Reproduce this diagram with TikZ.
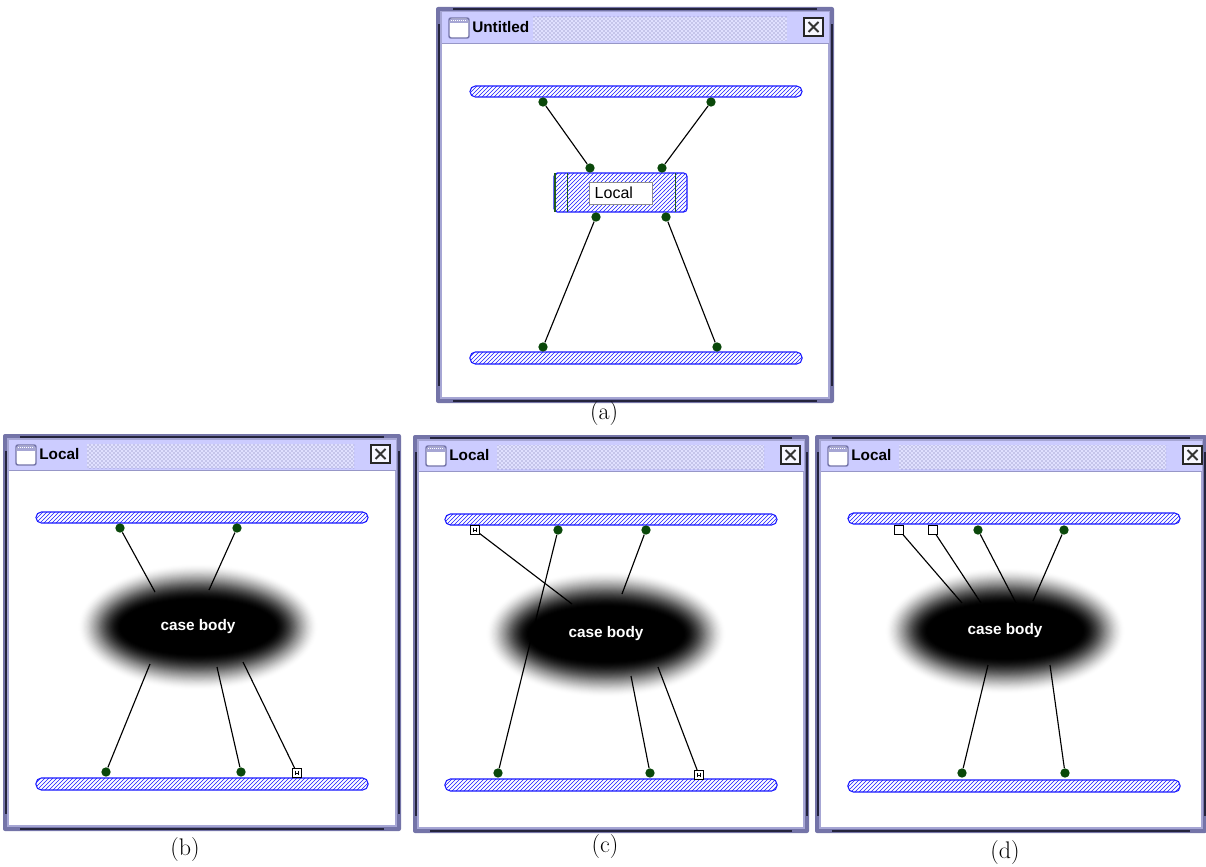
\documentclass[tikz,border=0pt]{standalone}
\usepackage{fontspec}
\newfontfamily\uifont{Liberation Sans}
\usetikzlibrary{patterns}

\definecolor{framemid}{HTML}{7474A8}
\definecolor{framedark}{HTML}{24243C}
\definecolor{framelight}{HTML}{A6A6D4}
\definecolor{titlebg}{HTML}{CCCCFF}
\definecolor{stipple}{HTML}{6E6EA6}
\definecolor{barblue}{HTML}{1A1AFF}
\definecolor{dotgreen}{HTML}{0A480A}
\definecolor{tabgreen}{HTML}{1E5A1E}

\tikzset{
  wire/.style={black, line width=0.85pt},
  dot/.style={circle, fill=dotgreen, inner sep=0pt, minimum size=7pt},
  pinbox/.style={rectangle, draw=black, fill=white, line width=0.6pt, inner sep=0pt, minimum size=6.4pt},
  pinH/.style={pinbox, path picture={
      \draw[line width=0.5pt]
        ([xshift=-1.2pt,yshift=1.8pt]path picture bounding box.center) -- ([xshift=-1.2pt,yshift=-1.8pt]path picture bounding box.center)
        ([xshift=1.2pt,yshift=1.8pt]path picture bounding box.center) -- ([xshift=1.2pt,yshift=-1.8pt]path picture bounding box.center)
        ([xshift=-1.2pt]path picture bounding box.center) -- ([xshift=1.2pt]path picture bounding box.center);}},
  pinD/.style={pinbox, path picture={
      \fill ([xshift=-1.3pt,yshift=-1.3pt]path picture bounding box.center) rectangle ([xshift=1.3pt,yshift=1.3pt]path picture bounding box.center);}},
  bar/.style={draw=barblue, line width=0.8pt, pattern=north east lines, pattern color=barblue, rounded corners=4pt},
  wintitle/.style={font=\uifont\bfseries\fontsize{11.5}{13}\selectfont, inner sep=0pt, text=black},
  localtag/.style={draw=black!45, fill=white, line width=0.6pt, font=\uifont\fontsize{12}{14}\selectfont,
      inner xsep=4pt, inner ysep=0pt, minimum height=16.5pt, text width=39pt, align=left},
  blobtext/.style={font=\uifont\bfseries\fontsize{11.5}{13}\selectfont, text=white, inner sep=0pt},
  caption/.style={font=\fontsize{18}{20}\selectfont, inner sep=0pt},
}

% application window: x0, y0, width, height, title, stipple start, title node name
\newcommand\appwin[7]{%
\begin{scope}[shift={(#1,#2)}]
  \fill[framemid, rounded corners=1.5pt] (0,0) rectangle (#3,#4);
  \fill[framedark] (17,1.5) rectangle ({#3-17},3.5);
  \fill[framedark] (17,{#4-3.5}) rectangle ({#3-17},{#4-1.5});
  \fill[framedark] (1.5,17) rectangle (3.5,{#4-17});
  \fill[framedark] ({#3-3.5},17) rectangle ({#3-1.5},{#4-17});
  \fill[framelight] (4,4) rectangle ({#3-4},{#4-4});
  \fill[titlebg] (5.5,5.5) rectangle ({#3-5.5},36);
  \fill[framelight!70!framemid] (5.5,36) rectangle ({#3-5.5},37);
  \fill[white] (6,37) rectangle ({#3-6},{#4-6});
  % stippled grip area of the title bar
  \fill[titlebg!60!white] (#6,10) rectangle (351,34);
  \fill[pattern=crosshatch dots, pattern color=stipple] (#6,10) rectangle (351,34);
  % window icon
  \draw[framemid, line width=1.1pt, fill=white, rounded corners=1.5pt] (13,11) rectangle (33,31);
  \fill[framelight] (14,12) rectangle (32,16.5);
  \draw[white, line width=0.4pt, dash pattern=on 0.6pt off 0.9pt] (15,13.5) -- (31,13.5);
  % close button
  \draw[line width=0.9pt, draw=black!85, fill=white!85!titlebg] (368,11) rectangle (387,29);
  \draw[line width=1.5pt, black!80] (372.5,15) -- (382.5,25) (372.5,25) -- (382.5,15);
  \node[wintitle, anchor=west] (#7) at (36,20.5) {#5};
\end{scope}}

% blurred "case body" blob: centre x, centre y, node name
% stacked translucent ellipses whose combined darkness follows a smoothstep profile
\newcommand\caseblob[3]{%
  \foreach \k in {1,...,40} {
    \pgfmathsetmacro\tprev{(\k-1)/40}
    \pgfmathsetmacro\tcur{\k/40}
    \pgfmathsetmacro\Tprev{3*\tprev*\tprev-2*\tprev*\tprev*\tprev}
    \pgfmathsetmacro\Tcur{3*\tcur*\tcur-2*\tcur*\tcur*\tcur}
    \pgfmathsetmacro\blobop{1-(1-\Tcur)/(1-\Tprev)}
    \pgfmathsetmacro\blobrx{122-46*\tcur}
    \pgfmathsetmacro\blobry{65-39*\tcur}
    \fill[black, fill opacity=\blobop] (#1,#2) ellipse [x radius=\blobrx, y radius=\blobry];
  }
  \node[blobtext] (#3) at (#1,#2) {case body};
}

\begin{document}
\begin{tikzpicture}[x=0.75pt, y=-0.75pt]
\useasboundingbox (0,0) rectangle (1206,867);

% ---------------- (a) ----------------
\appwin{436}{7}{398}{396}{Untitled}{97}{titleA}
\draw[bar] (470,86) rectangle (802,97);
\draw[bar] (470,352) rectangle (802,364);
\draw[bar, rounded corners=2.5pt] (554,173) rectangle (687,212);
\fill[tabgreen] (553.6,173) rectangle (555.8,212);
\draw[tabgreen, line width=0.7pt] (567,173) -- (567,212);
\draw[tabgreen, line width=0.7pt] (675,173) -- (675,212);
\node[localtag, anchor=west] (localtag) at (589,193) {Local};

\node[dot] (a1) at (543,102) {};
\node[dot] (a2) at (711,102) {};
\node[dot] (a3) at (590,168) {};
\node[dot] (a4) at (662,168) {};
\node[dot] (a5) at (596,217) {};
\node[dot] (a6) at (666,217) {};
\node[dot] (a7) at (543,347) {};
\node[dot] (a8) at (717,347) {};
\draw[wire] (a1) -- (a3);
\draw[wire] (a2) -- (a4);
\draw[wire] (a5) -- (a7);
\draw[wire] (a6) -- (a8);
\node[caption] (capA) at (604,414) {(a)};

% ---------------- (b) ----------------
\appwin{3}{434}{398}{397}{Local}{84}{titleB}
\draw[bar] (36,512) rectangle (368,523);
\draw[bar] (36,778) rectangle (368,790);
\node[dot] (b1) at (120,528) {};
\node[dot] (b2) at (237,528) {};
\node[dot] (b3) at (106,772) {};
\node[dot] (b4) at (241,772) {};
\node[pinH] (b5) at (297,773) {};
\coordinate (bt1) at (155,592);
\coordinate (bt2) at (209,590);
\coordinate (bb1) at (150,664);
\coordinate (bb2) at (217,667);
\coordinate (bb3) at (243,662);
\draw[wire] (b1) -- (bt1);
\draw[wire] (b2) -- (bt2);
\draw[wire] (bb1) -- (b3);
\draw[wire] (bb2) -- (b4);
\draw[wire] (bb3) -- (b5);
\caseblob{198}{627}{blobB}
\node[caption] (capB) at (185,850) {(b)};

% ---------------- (c) ----------------
\appwin{413}{435}{396}{398}{Local}{84}{titleC}
\draw[bar] (445,514) rectangle (777,525);
\draw[bar] (445,779) rectangle (777,791);
\node[pinH] (c1) at (475,530) {};
\node[dot] (c2) at (558,530) {};
\node[dot] (c3) at (646,530) {};
\node[dot] (c4) at (498,773) {};
\node[dot] (c5) at (650,773) {};
\node[pinH] (c6) at (699,775) {};
\coordinate (ct1) at (572,604);
\coordinate (ct3) at (622,594);
\coordinate (cb1) at (631,676);
\coordinate (cb2) at (658,667);
\draw[wire] (c1) -- (ct1);
\draw[wire] (c2) -- (c4);
\draw[wire] (c3) -- (ct3);
\draw[wire] (cb1) -- (c5);
\draw[wire] (cb2) -- (c6);
\caseblob{606}{634}{blobC}
\node[caption] (capC) at (605,847) {(c)};

% ---------------- (d) ----------------
\appwin{815}{435}{392}{398}{Local}{84}{titleD}
\draw[bar] (848,513) rectangle (1180,524);
\draw[bar] (848,780) rectangle (1180,792);
\node[pinD] (d1) at (899,530) {};
\node[pinD] (d2) at (933,530) {};
\node[dot] (d3) at (978,530) {};
\node[dot] (d4) at (1064,530) {};
\node[dot] (d5) at (962,773) {};
\node[dot] (d6) at (1065,773) {};
\coordinate (dt1) at (962,603);
\coordinate (dt2) at (981,603);
\coordinate (dt3) at (1016,603);
\coordinate (dt4) at (1033,601);
\coordinate (db1) at (988,665);
\coordinate (db2) at (1050,665);
\draw[wire] (d1) -- (dt1);
\draw[wire] (d2) -- (dt2);
\draw[wire] (d3) -- (dt3);
\draw[wire] (d4) -- (dt4);
\draw[wire] (db1) -- (d5);
\draw[wire] (db2) -- (d6);
\caseblob{1005}{631}{blobD}
\node[caption] (capD) at (1005,853) {(d)};
\end{tikzpicture}
\end{document}
